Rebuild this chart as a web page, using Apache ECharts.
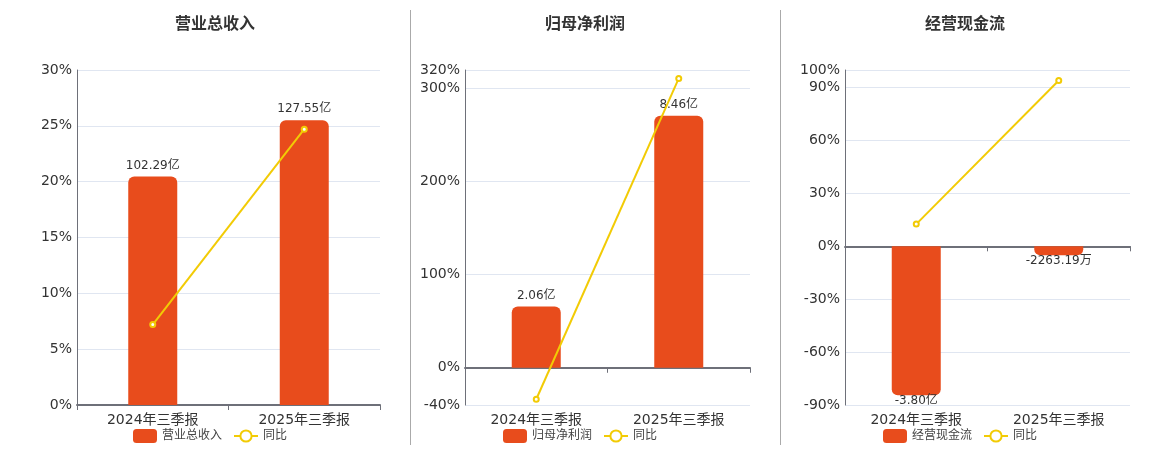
<!DOCTYPE html>
<html><head><meta charset="utf-8">
<script src="https://cdn.jsdelivr.net/npm/echarts@6/dist/echarts.min.js"></script>
<style>html,body{margin:0;padding:0;background:#fff}#c{width:1160px;height:450px}</style>
</head><body><div id="c"></div>
<script>
const categories = ['2024年三季报', '2025年三季报'];
const titles = ['营业总收入', '归母净利润', '经营现金流'];
// values in 万元
const revenue = [1022900, 1275500];
const revenueYoy = [7.2, 24.7];
const profit = [20600, 84600];
const profitYoy = [-33.8, 310.9];
const cashflow = [-38000, -2263.19];
const cashflowYoy = [12.6, 94.0];
const pctMin = [0, -40, -90];
const pctMax = [30, 320, 100];
const barMin = [0, -12500, -40500];
const barMax = [1500000, 100000, 45000];

const FONT = 'DejaVu Sans, Noto Sans CJK SC, sans-serif';
const BAR = '#E84C1C', LINE = '#F2CB05';
const grids = [{left:77,right:780},{left:465,right:410},{left:845,right:30}];
const centers = [210, 580, 960];
const barsAll = [revenue, profit, cashflow];
const yoyAll = [revenueYoy, profitYoy, cashflowYoy];

function fmt(v){
  if (Math.abs(v) >= 10000) return (v/10000).toFixed(2) + '亿';
  return v.toFixed(2) + '万';
}

const option = {
  animation: false,
  textStyle: {fontFamily: FONT},
  title: [], legend: [], grid: [], xAxis: [], yAxis: [], series: [],
  graphic: [
    {type:'line', shape:{x1:410.5,y1:10,x2:410.5,y2:445}, style:{stroke:'#aaa',lineWidth:1}},
    {type:'line', shape:{x1:780.5,y1:10,x2:780.5,y2:445}, style:{stroke:'#aaa',lineWidth:1}}
  ]
};

for (let i = 0; i < 3; i++) {
  option.title.push({text: titles[i], left: centers[i], top: 12, textAlign: 'center',
    textStyle:{fontSize:16, fontWeight:'bold', color:'#333', fontFamily: FONT}});
  option.legend.push({data:[titles[i], '同比'], left: centers[i] - 82, top: 424,
    itemWidth:24, itemHeight:14, itemGap:11,
    textStyle:{fontSize:12, color:'#444', fontFamily: FONT}});
  option.grid.push({left: grids[i].left, right: grids[i].right, top: 70, bottom: 45, containLabel:false});
  // label axis at bottom
  option.xAxis.push({type:'category', gridIndex:i, data:categories, position:'bottom',
    axisLine:{show:false, onZero:false}, axisTick:{show:false},
    axisLabel:{fontSize:14, color:'#333', margin:8, fontFamily: FONT}});
  // zero line axis
  option.xAxis.push({type:'category', gridIndex:i, data:categories, position:'bottom',
    axisLine:{show:true, onZero:true, lineStyle:{color:'#6E7079', width:2}},
    axisTick:{show:true, length:5, lineStyle:{color:'#6E7079'}},
    axisLabel:{show:false}});
  // percent axis
  const pa = {type:'value', gridIndex:i, min:pctMin[i], max:pctMax[i], position:'left',
    axisLine:{show:true, onZero:false, lineStyle:{color:'#6E7079'}}, axisTick:{show:false},
    axisLabel:{formatter:'{value}%', fontSize:14, color:'#333', margin:5, fontFamily: FONT},
    splitLine:{show:true, lineStyle:{color:'#E0E6F1'}}};
  if (i === 0) pa.interval = 5;
  option.yAxis.push(pa);
  // bar axis (hidden)
  option.yAxis.push({type:'value', gridIndex:i, min:barMin[i], max:barMax[i], show:false,
    splitLine:{show:false}});
  const bars = barsAll[i];
  option.series.push({
    name: titles[i], type:'bar', xAxisIndex: 2*i, yAxisIndex: 2*i+1, barWidth: 49,
    itemStyle:{color: BAR},
    data: bars.map(v => ({value: v,
      itemStyle:{borderRadius: v >= 0 ? [6,6,0,0] : [0,0,6,6]},
      label:{show:true, position: v >= 0 ? 'top' : 'bottom', distance: v >= 0 ? 5 : 0,
        formatter: () => fmt(v), fontSize:12, color:'#333', fontFamily: FONT}}))
  });
  option.series.push({
    name:'同比', type:'line', xAxisIndex: 2*i, yAxisIndex: 2*i, data: yoyAll[i],
    symbol:'emptyCircle', symbolSize:5, lineStyle:{color: LINE, width:2},
    itemStyle:{color: LINE, borderWidth:2}, z:5
  });
}
const chart = echarts.init(document.getElementById('c'));
chart.setOption(option);
</script></body></html>
